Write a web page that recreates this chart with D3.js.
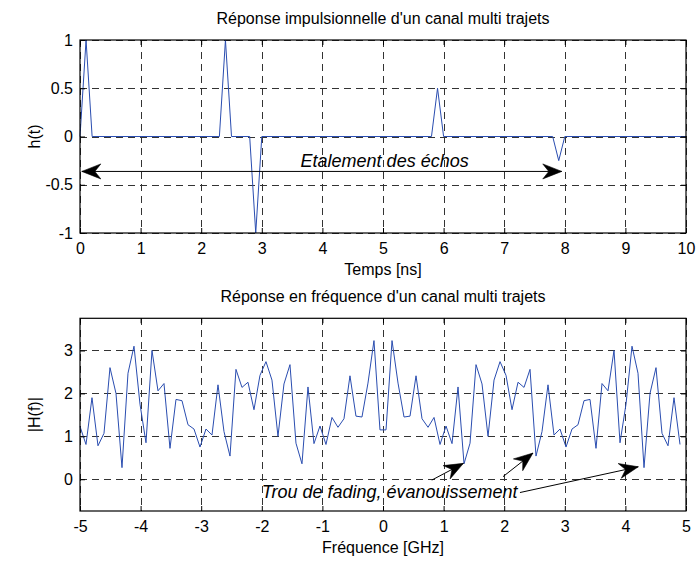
<!DOCTYPE html>
<html>
<head>
<meta charset="utf-8">
<script src="https://cdn.jsdelivr.net/npm/d3@7"></script>
<style>
  html, body { margin: 0; padding: 0; background: #fff; }
  svg { display: block; }
  text { font-family: "Liberation Sans", Arial, sans-serif; fill: #000; }
</style>
</head>
<body>
<svg id="chart" width="697" height="561"></svg>
<script>
// ---------------- DATA ----------------
// Impulse response h(t): polyline vertices (t in ns)
const hTime  = [0, 0.1, 0.2, 2.3, 2.4, 2.5, 2.8, 2.9, 3.0, 5.8, 5.9, 6.0, 7.8, 7.9, 8.0, 10];
const hValue = [0, 1,   0,   0,   1,   0,   0,  -1,   0,   0,   0.5, 0,   0,  -0.25, 0,  0];

// Frequency response |H(f)| (f in GHz)
const freq = [
  -5.000,-4.901,-4.802,-4.703,-4.604,-4.505,-4.406,-4.307,-4.208,-4.109,
  -4.010,-3.911,-3.812,-3.713,-3.614,-3.515,-3.416,-3.317,-3.218,-3.119,
  -3.020,-2.921,-2.822,-2.723,-2.624,-2.525,-2.426,-2.327,-2.228,-2.129,
  -2.030,-1.931,-1.832,-1.733,-1.634,-1.535,-1.436,-1.337,-1.238,-1.139,
  -1.040,-0.941,-0.842,-0.743,-0.644,-0.545,-0.446,-0.347,-0.248,-0.149,
  -0.050, 0.050, 0.149, 0.248, 0.347, 0.446, 0.545, 0.644, 0.743, 0.842,
   0.941, 1.040, 1.139, 1.238, 1.337, 1.436, 1.535, 1.634, 1.733, 1.832,
   1.931, 2.030, 2.129, 2.228, 2.327, 2.426, 2.525, 2.624, 2.723, 2.822,
   2.921, 3.020, 3.119, 3.218, 3.317, 3.416, 3.515, 3.614, 3.713, 3.812,
   3.911, 4.010, 4.109, 4.208, 4.307, 4.406, 4.505, 4.604, 4.703, 4.802,
   4.901
];
const magH = [
  1.23, 0.81, 1.90, 0.78, 1.07, 2.60, 2.00, 0.27, 2.47, 3.10,
  1.75, 0.85, 3.00, 2.06, 2.23, 0.72, 1.86, 1.83, 1.27, 1.17,
  0.75, 1.17, 1.03, 2.20, 1.11, 0.54, 2.56, 2.14, 2.26, 1.62,
  2.42, 2.74, 2.31, 1.00, 2.22, 2.67, 0.84, 0.36, 2.15, 0.83,
  1.24, 0.81, 1.44, 1.21, 1.41, 2.41, 1.47, 1.45, 2.24, 3.23,
  1.15, 1.15, 3.23, 2.24, 1.45, 1.47, 2.41, 1.41, 1.21, 1.44,
  0.81, 1.24, 0.83, 2.15, 0.36, 0.84, 2.67, 2.22, 1.00, 2.31,
  2.74, 2.42, 1.62, 2.26, 2.14, 2.56, 0.54, 1.11, 2.20, 1.03,
  1.17, 0.75, 1.17, 1.27, 1.83, 1.86, 0.72, 2.23, 2.06, 3.00,
  0.85, 1.75, 3.10, 2.47, 0.27, 2.00, 2.60, 1.07, 0.78, 1.90,
  0.81
];

// Tick values
const topXTicks = [0,1,2,3,4,5,6,7,8,9,10];
const topYTicks = [-1,-0.5,0,0.5,1];
const botXTicks = [-5,-4,-3,-2,-1,0,1,2,3,4,5];
const botYTicks = [0,1,2,3];

// Texts
const topTitle = "Réponse impulsionnelle d'un canal multi trajets";
const topXLabel = "Temps [ns]";
const topYLabel = "h(t)";
const botTitle = "Réponse en fréquence d'un canal multi trajets";
const botXLabel = "Fréquence [GHz]";
const botYLabel = "|H(f)|";
const topNote = "Etalement des échos";
const botNote = "Trou de fading, évanouissement";

// Annotation anchor points (data units)
const topArrow = { x1: 0.03, x2: 7.95, y: -0.362 };
const topNotePos = { x: 3.64, y: -0.317 };
const botNotePos = { x: -2.0, y: -0.44 };
const botArrows = [
  { x1: 0.805, y1: -0.02, x2: 1.327, y2: 0.37 },
  { x1: 1.98,  y1: 0.06,  x2: 2.475, y2: 0.61 },
  { x1: 2.26,  y1: -0.31, x2: 4.213, y2: 0.29 }
];

// ---------------- DRAW ----------------
const svg = d3.select("#chart");
svg.append("rect").attr("width", 697).attr("height", 561).attr("fill", "#fff");

const LINE = "#2a4db0";
const FS = 16;
const NOTE_FS = 18;
const fmt = d => String(d);

function panel(opts) {
  const { x, y, xTicks, yTicks } = opts;
  const [L, R] = x.range();
  const [B, T] = y.range();
  const g = svg.append("g");

  // grid
  const grid = g.append("g").attr("stroke", "#333").attr("stroke-width", 1)
    .attr("stroke-dasharray", "7,5").attr("shape-rendering", "crispEdges");
  grid.selectAll("line.v").data(xTicks).join("line")
    .attr("x1", d => Math.round(x(d)) + 0.5).attr("x2", d => Math.round(x(d)) + 0.5)
    .attr("y1", T).attr("y2", B);
  grid.selectAll("line.h").data(yTicks).join("line")
    .attr("y1", d => Math.round(y(d)) + 0.5).attr("y2", d => Math.round(y(d)) + 0.5)
    .attr("x1", L).attr("x2", R);

  // data line
  g.append("path").datum(opts.data)
    .attr("fill", "none").attr("stroke", LINE).attr("stroke-width", 1)
    .attr("d", d3.line().x(d => x(d[0])).y(d => y(d[1])));

  // axes with inward ticks
  const ax = g.append("g").attr("transform", `translate(0,${B})`)
    .call(d3.axisBottom(x).tickValues(xTicks).tickFormat(fmt).tickSizeInner(-5).tickSizeOuter(0).tickPadding(10));
  const axT = g.append("g").attr("transform", `translate(0,${T})`)
    .call(d3.axisTop(x).tickValues(xTicks).tickFormat("").tickSizeInner(-5).tickSizeOuter(0));
  const ay = g.append("g").attr("transform", `translate(${L},0)`)
    .call(d3.axisLeft(y).tickValues(yTicks).tickFormat(fmt).tickSizeInner(-5).tickSizeOuter(0).tickPadding(7));
  const ayR = g.append("g").attr("transform", `translate(${R},0)`)
    .call(d3.axisRight(y).tickValues(yTicks).tickFormat("").tickSizeInner(-5).tickSizeOuter(0));
  [ax, axT, ay, ayR].forEach(a => {
    a.select(".domain").remove();
    a.selectAll("line").attr("stroke", "#000");
    a.selectAll("text").attr("font-size", FS).attr("font-family", '"Liberation Sans", Arial, sans-serif').attr("fill", "#000");
  });

  // box
  g.append("rect").attr("x", L).attr("y", T).attr("width", R - L).attr("height", B - T)
    .attr("fill", "none").attr("stroke", "#000").attr("stroke-width", 1.2);

  // titles and labels
  const cx = (L + R) / 2;
  g.append("text").attr("x", cx).attr("y", T - 16).attr("text-anchor", "middle")
    .attr("font-size", FS).text(opts.title);
  g.append("text").attr("x", cx).attr("y", B + 42).attr("text-anchor", "middle")
    .attr("font-size", FS).text(opts.xLabel);
  g.append("text").attr("transform", `translate(40,${(T + B) / 2}) rotate(-90)`)
    .attr("text-anchor", "middle").attr("font-size", FS).text(opts.yLabel);
  return g;
}

function arrowHead(g, xt, yt, xf, yf) {
  // tip at (xt,yt), pointing away from (xf,yf)
  const a = Math.atan2(yt - yf, xt - xf);
  const Lh = 19, Wh = 7.5, N = 13;
  const c = Math.cos(a), s = Math.sin(a);
  const p = (back, side) => [xt - back * c - side * s, yt - back * s + side * c];
  const pts = [[xt, yt], p(Lh, Wh), p(N, 0), p(Lh, -Wh)];
  g.append("path").attr("d", "M" + pts.map(q => q.join(",")).join("L") + "Z")
    .attr("fill", "#000").attr("stroke", "#000").attr("stroke-width", 0.6);
}

// ---- Top panel ----
const xT = d3.scaleLinear().domain([0, 10]).range([80, 686]);
const yT = d3.scaleLinear().domain([-1, 1]).range([233, 40]);
const gTop = panel({
  x: xT, y: yT, xTicks: topXTicks, yTicks: topYTicks,
  data: hTime.map((t, i) => [t, hValue[i]]),
  title: topTitle, xLabel: topXLabel, yLabel: topYLabel
});
{
  const ya = yT(topArrow.y), xa1 = xT(topArrow.x1), xa2 = xT(topArrow.x2);
  gTop.append("line").attr("x1", xa1).attr("x2", xa2).attr("y1", ya).attr("y2", ya)
    .attr("stroke", "#000").attr("stroke-width", 1);
  arrowHead(gTop, xa1, ya, xa2, ya);
  arrowHead(gTop, xa2, ya, xa1, ya);
  gTop.append("text").attr("x", xT(topNotePos.x)).attr("y", yT(topNotePos.y))
    .attr("font-size", NOTE_FS).attr("font-style", "italic").text(topNote);
}

// ---- Bottom panel ----
const xB = d3.scaleLinear().domain([-5, 5]).range([80, 686]);
const yB = d3.scaleLinear().domain([-0.74, 3.75]).range([511, 318.3]);
const gBot = panel({
  x: xB, y: yB, xTicks: botXTicks, yTicks: botYTicks,
  data: freq.map((f, i) => [f, magH[i]]),
  title: botTitle, xLabel: botXLabel, yLabel: botYLabel
});
{
  botArrows.forEach(a => {
    const x1 = xB(a.x1), y1 = yB(a.y1), x2 = xB(a.x2), y2 = yB(a.y2);
    gBot.append("line").attr("x1", x1).attr("y1", y1).attr("x2", x2).attr("y2", y2)
      .attr("stroke", "#000").attr("stroke-width", 1);
    arrowHead(gBot, x2, y2, x1, y1);
  });
  gBot.append("text").attr("x", xB(botNotePos.x)).attr("y", yB(botNotePos.y))
    .attr("font-size", NOTE_FS).attr("font-style", "italic").text(botNote);
}
</script>
</body>
</html>
